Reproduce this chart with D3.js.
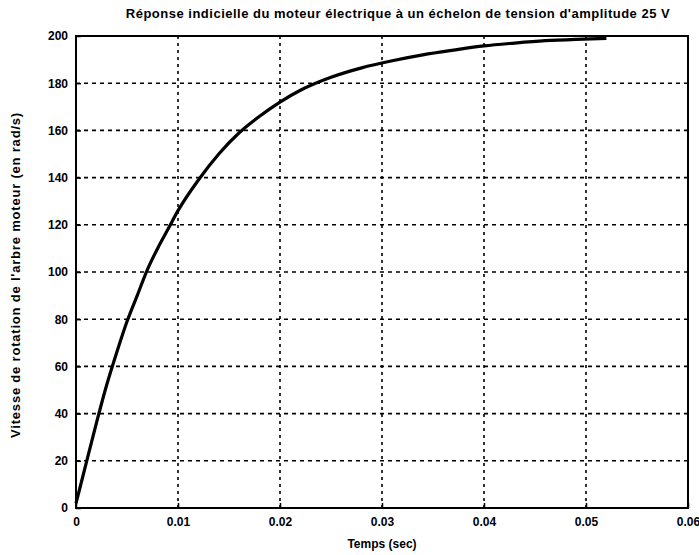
<!DOCTYPE html>
<html>
<head>
<meta charset="utf-8">
<script src="https://cdn.jsdelivr.net/npm/d3@7"></script>
<style>
  body { margin: 0; background: #fff; }
  text { font-family: "Liberation Sans", Arial, sans-serif; font-weight: bold; fill: #000; }
</style>
</head>
<body>
<svg id="chart" width="699" height="555"></svg>
<script>
// temps (s) et vitesse (rad/s)
var temps   = [0, 0.001, 0.002, 0.003, 0.004, 0.005, 0.006, 0.007, 0.008, 0.009, 0.010,
               0.012, 0.014, 0.016, 0.018, 0.020, 0.022, 0.025, 0.028, 0.031, 0.034,
               0.037, 0.040, 0.043, 0.046, 0.049, 0.052];
var vitesse = [2, 19, 36, 52, 66, 79, 90, 101, 110, 118, 126,
               139, 150, 159, 166, 172, 177, 182.5, 186.5, 189.5, 192,
               194, 195.8, 197, 198, 198.6, 199];
var xTicks = [0, 0.01, 0.02, 0.03, 0.04, 0.05, 0.06];
var yTicks = [0, 20, 40, 60, 80, 100, 120, 140, 160, 180, 200];

var titre = "Réponse indicielle du moteur électrique à un échelon de tension d'amplitude 25 V";
var xLabel = "Temps (sec)";
var yLabel = "Vitesse de rotation de l'arbre moteur (en rad/s)";

// marges du cadre (top est reserve par window, d'ou les noms)
var pLeft = 76, pRight = 688, pTop = 36, pBottom = 508;

var svg = d3.select("#chart");

var x = d3.scaleLinear().domain([0, 0.06]).range([pLeft, pRight]);
var y = d3.scaleLinear().domain([0, 200]).range([pBottom, pTop]);

// grille pointillée
svg.append("g").selectAll("line").data(xTicks.slice(1, -1)).enter().append("line")
  .attr("x1", d => x(d)).attr("x2", d => x(d))
  .attr("y1", pTop).attr("y2", pBottom)
  .attr("stroke", "#000").attr("stroke-width", 1.6).attr("stroke-dasharray", "3,4");
svg.append("g").selectAll("line").data(yTicks.slice(1, -1)).enter().append("line")
  .attr("x1", pLeft).attr("x2", pRight)
  .attr("y1", d => y(d)).attr("y2", d => y(d))
  .attr("stroke", "#000").attr("stroke-width", 1.6).attr("stroke-dasharray", "4,4");

// axes (graduations vers l'interieur)
var xAxis = svg.append("g").attr("transform", "translate(0," + pBottom + ")")
  .call(d3.axisBottom(x).tickValues(xTicks).tickSize(-5).tickPadding(9)
    .tickFormat(d => d === 0 ? "0" : d3.format(".2f")(d)));
var yAxis = svg.append("g").attr("transform", "translate(" + pLeft + ",0)")
  .call(d3.axisLeft(y).tickValues(yTicks).tickSize(-5).tickPadding(8));
[xAxis, yAxis].forEach(function (g) {
  g.select(".domain").remove();
  g.selectAll("line").attr("stroke", "#000").attr("stroke-width", 1.5);
  g.selectAll("text").style("font-size", "12px").style("font-family", "Liberation Sans, Arial, sans-serif")
    .style("font-weight", "bold");
});

// cadre
svg.append("rect").attr("x", pLeft).attr("y", pTop)
  .attr("width", pRight - pLeft).attr("height", pBottom - pTop)
  .attr("fill", "none").attr("stroke", "#000").attr("stroke-width", 2);

// courbe
var courbe = d3.line().x((d, i) => x(temps[i])).y(d => y(d)).curve(d3.curveMonotoneX);
svg.append("path").datum(vitesse)
  .attr("d", courbe)
  .attr("fill", "none").attr("stroke", "#000").attr("stroke-width", 3.2);

// textes
svg.append("text").attr("x", 398).attr("y", 18)
  .attr("text-anchor", "middle").style("font-size", "13px").style("letter-spacing", "0.5px")
  .text(titre);
svg.append("text").attr("x", (pLeft + pRight) / 2).attr("y", 548)
  .attr("text-anchor", "middle").style("font-size", "12px").text(xLabel);
svg.append("text").attr("transform", "translate(20,275) rotate(-90)")
  .attr("text-anchor", "middle").style("font-size", "13px").style("letter-spacing", "0.8px")
  .text(yLabel);
</script>
</body>
</html>
